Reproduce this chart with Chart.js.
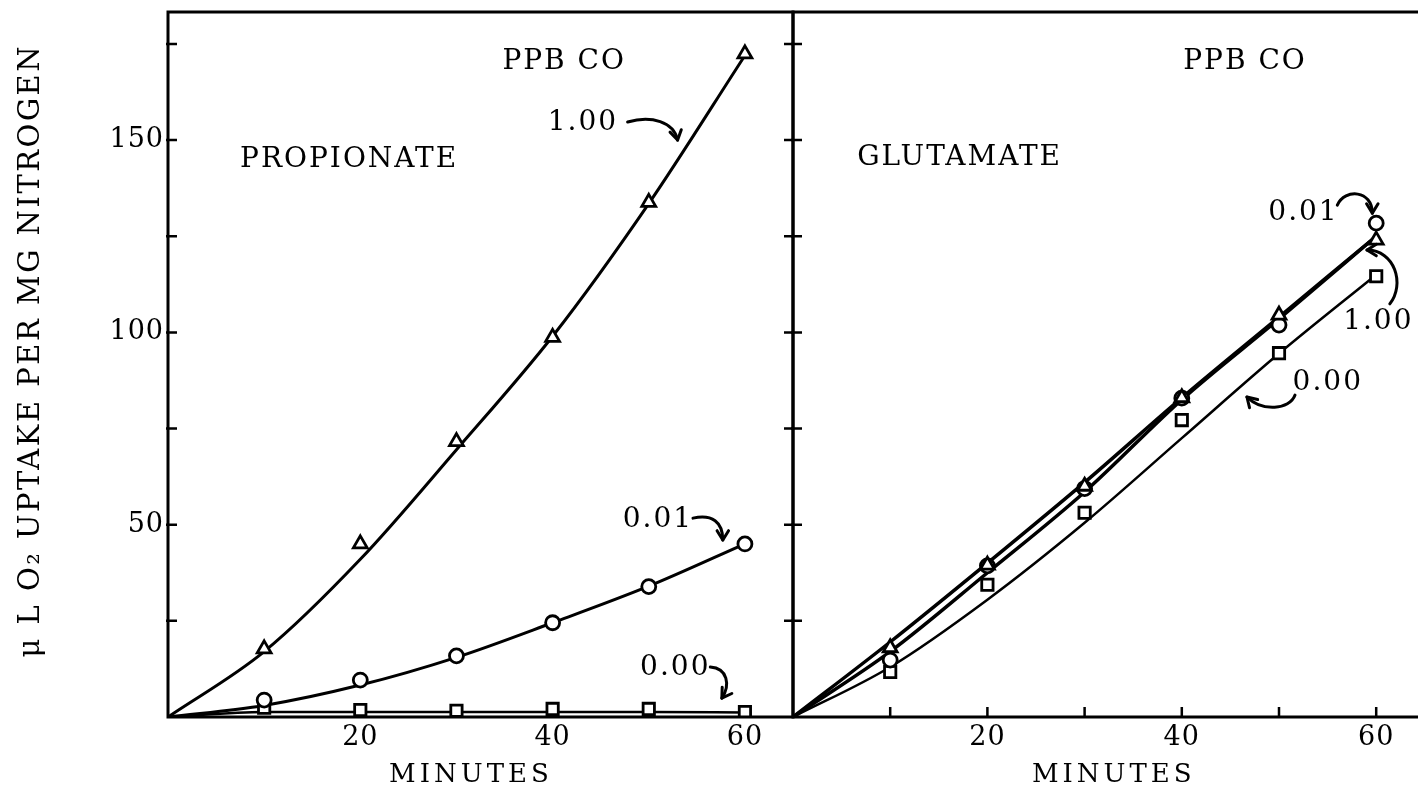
<!DOCTYPE html>
<html>
<head>
<meta charset="utf-8">
<script src="https://cdn.jsdelivr.net/npm/chart.js@4.4.1/dist/chart.umd.min.js"></script>
<style>
  html, body { margin: 0; padding: 0; background: #fff; }
  body { width: 1418px; height: 790px; position: relative; overflow: hidden; }
  .panel { position: absolute; top: 0; height: 790px; }
  #leftWrap { left: 0; width: 800px; }
  #rightWrap { left: 700px; width: 718px; }
</style>
</head>
<body>
<div class="panel" id="leftWrap"><canvas id="leftChart"></canvas></div>
<div class="panel" id="rightWrap"><canvas id="rightChart"></canvas></div>
<script>
// Sample times (minutes)
const minutes = [10, 20, 30, 40, 50, 60];
const fitMinutes = [0, 10, 20, 30, 40, 50, 60];
const xLabels = [20, 40, 60];
const yLabels = [50, 100, 150];

// Propionate, measured points (ppb CO: 1.00 / 0.01 / 0.00)
const propHigh = [17.7, 45, 71.6, 98.7, 133.8, 172.4];
const propMid = [4.4, 9.6, 15.9, 24.5, 33.9, 45];
const propZero = [2.4, 1.8, 1.6, 2.1, 2.1, 1.3];
// Propionate, drawn curves
const propHighFit = [0, 17, 41, 69.5, 99, 133.5, 172];
const propMidFit = [0, 3, 8.3, 15.5, 24.5, 34, 45];
const propZeroFit = [0, 1.3, 1.3, 1.3, 1.3, 1.3, 1.2];

// Glutamate, measured points
const gluHigh = [18, 39.5, 60, 83, 104.5, 124];
const gluMid = [14.8, 39.3, 59.4, 82.9, 101.9, 128.4];
const gluZero = [11.7, 34.4, 53.1, 77.2, 94.6, 114.6];
// Glutamate, drawn curves
const gluHighFit = [0, 19.5, 40, 61, 83, 104, 125];
const gluMidFit = [0, 17, 37.5, 58.5, 82.5, 103.5, 125];
const gluZeroFit = [0, 13, 30.5, 50.5, 72.5, 94.5, 115];

const FONT = '"DejaVu Serif", serif';
const pts = (xs, ys) => xs.map((x, i) => ({ x: x, y: ys[i] }));

function markers(ys, style, radius) {
    return {
        data: pts(minutes, ys),
        showLine: false,
        pointStyle: style,
        pointRadius: radius,
        pointBackgroundColor: '#fff',
        pointBorderColor: '#000',
        pointBorderWidth: 2.8,
        order: 0
    };
}

function curve(ys, width) {
    return {
        data: pts(fitMinutes, ys),
        borderColor: '#000',
        borderWidth: width,
        pointRadius: 0,
        cubicInterpolationMode: 'monotone',
        fill: false,
        order: 1
    };
}

function spacedText(ctx, text, x, y, size, spacing, align) {
    ctx.font = size + 'px ' + FONT;
    ctx.letterSpacing = spacing + 'px';
    ctx.textAlign = align || 'left';
    ctx.textBaseline = 'middle';
    // trailing letter spacing would push centred text left
    const dx = align === 'center' ? spacing / 2 : 0;
    ctx.fillText(text, x + dx, y);
}

// frame, inward ticks, titles, labels and arrows
const panelDecor = {
    id: 'panelDecor',
    beforeDraw(chart) {
        chart.ctx.letterSpacing = '1px';
    },
    afterDraw(chart, args, opts) {
        const ctx = chart.ctx;
        const a = chart.chartArea;
        const xs = chart.scales.x, ys = chart.scales.y;
        ctx.save();
        ctx.strokeStyle = '#000';
        ctx.fillStyle = '#000';
        ctx.lineWidth = 3;
        ctx.lineCap = 'square';
        ctx.beginPath();
        if (opts.sides.includes('left')) { ctx.moveTo(a.left, a.top); ctx.lineTo(a.left, a.bottom); }
        if (opts.sides.includes('top')) { ctx.moveTo(a.left, a.top); ctx.lineTo(a.right, a.top); }
        if (opts.sides.includes('right')) { ctx.moveTo(a.right, a.top); ctx.lineTo(a.right, a.bottom); }
        if (opts.sides.includes('bottom')) { ctx.moveTo(a.left, a.bottom); ctx.lineTo(a.right, a.bottom); }
        ctx.stroke();

        ctx.lineWidth = 2.5;
        ctx.lineCap = 'butt';
        ctx.beginPath();
        for (let v = 25; v <= 175; v += 25) {
            const py = ys.getPixelForValue(v);
            if (opts.yTicksLeft) { ctx.moveTo(a.left - 2, py); ctx.lineTo(a.left + 9, py); }
            if (opts.yTicksRight) { ctx.moveTo(a.right - 9, py); ctx.lineTo(a.right, py); }
        }
        (opts.xTicks || []).forEach(v => {
            const px = xs.getPixelForValue(v);
            ctx.moveTo(px, a.bottom); ctx.lineTo(px, a.bottom - 10);
        });
        ctx.stroke();

        // axis titles
        spacedText(ctx, 'MINUTES', xs.getPixelForValue(opts.xTitleAt), a.bottom + 58, 26, 4, 'center');
        if (opts.yTitle) {
            ctx.save();
            ctx.translate(31, 352);
            ctx.rotate(-Math.PI / 2);
            spacedText(ctx, opts.yTitle, 0, 0, 29, 2.5, 'center');
            ctx.restore();
        }

        (opts.notes || []).forEach(n => {
            spacedText(ctx, n.text, xs.getPixelForValue(n.x), ys.getPixelForValue(n.y), 28, 2, n.align);
        });

        ctx.lineWidth = 3;
        ctx.lineCap = 'round';
        (opts.arrows || []).forEach(ar => {
            const p = ar.map(q => [xs.getPixelForValue(q[0]), ys.getPixelForValue(q[1])]);
            ctx.beginPath();
            ctx.moveTo(p[0][0], p[0][1]);
            ctx.bezierCurveTo(p[1][0], p[1][1], p[2][0], p[2][1], p[3][0], p[3][1]);
            ctx.stroke();
            const ang = Math.atan2(p[3][1] - p[2][1], p[3][0] - p[2][0]);
            ctx.beginPath();
            [0.55, -0.55].forEach(d => {
                ctx.moveTo(p[3][0], p[3][1]);
                ctx.lineTo(p[3][0] - 11 * Math.cos(ang + d), p[3][1] - 11 * Math.sin(ang + d));
            });
            ctx.stroke();
        });
        ctx.restore();
        ctx.letterSpacing = '0px';
    }
};

function axes(xMax, yWidth, showY) {
    return {
        x: {
            type: 'linear', min: 0, max: xMax,
            grid: { display: false, drawTicks: false },
            border: { display: false },
            ticks: {
                stepSize: 10, includeBounds: false, autoSkip: false, maxRotation: 0, padding: 5,
                color: '#000', font: { family: FONT, size: 27 },
                callback: v => xLabels.includes(v) ? String(v) : ''
            },
            afterFit: s => { s.height = 73; s.paddingLeft = 0; s.paddingRight = 0; }
        },
        y: {
            min: 0, max: 183.3,
            grid: { display: false, drawTicks: false },
            border: { display: false },
            ticks: {
                display: showY, stepSize: 25, autoSkip: false, padding: 4,
                color: '#000', font: { family: FONT, size: 27 },
                callback: v => yLabels.includes(v) ? String(v) : ''
            },
            afterFit: s => { s.width = yWidth; s.paddingTop = 0; s.paddingBottom = 0; }
        }
    };
}

// Propionate panel
new Chart(document.getElementById('leftChart').getContext('2d'), {
    type: 'line',
    data: {
        datasets: [
            markers(propHigh, 'triangle', 8),
            markers(propMid, 'circle', 7),
            markers(propZero, 'rect', 8),
            curve(propHighFit, 3),
            curve(propMidFit, 3),
            curve(propZeroFit, 2.5)
        ]
    },
    options: {
        responsive: true,
        maintainAspectRatio: false,
        animation: false,
        layout: { autoPadding: false, padding: { top: 12, right: 7, left: 0, bottom: 0 } },
        scales: axes(65, 168, true),
        plugins: {
            legend: { display: false },
            tooltip: { enabled: false },
            panelDecor: {
                sides: ['left', 'top', 'right', 'bottom'],
                yTicksLeft: true,
                yTicksRight: true,
                xTitleAt: 31.3,
                yTitle: 'μ L O₂ UPTAKE PER MG NITROGEN',
                notes: [
                    { text: 'PPB CO', x: 41.1, y: 170.3, align: 'center' },
                    { text: 'PROPIONATE', x: 7.5, y: 144.8 },
                    { text: '1.00', x: 39.5, y: 154.4 },
                    { text: '0.01', x: 47.3, y: 51.2 },
                    { text: '0.00', x: 49.1, y: 12.7 }
                ],
                arrows: [
                    [[47.8, 154.7], [50.3, 156.5], [52.6, 154.7], [53.0, 150.0]],
                    [[54.6, 51.7], [56.6, 52.8], [57.7, 50.7], [57.7, 46.0]],
                    [[56.4, 13.0], [58.2, 12.7], [58.5, 8.3], [57.6, 4.9]]
                ]
            }
        }
    },
    plugins: [panelDecor]
});

// Glutamate panel
new Chart(document.getElementById('rightChart').getContext('2d'), {
    type: 'line',
    data: {
        datasets: [
            markers(gluHigh, 'triangle', 8),
            markers(gluMid, 'circle', 7),
            markers(gluZero, 'rect', 8),
            curve(gluHighFit, 3.5),
            curve(gluMidFit, 3.5),
            curve(gluZeroFit, 2.5)
        ]
    },
    options: {
        responsive: true,
        maintainAspectRatio: false,
        animation: false,
        layout: { autoPadding: false, padding: { top: 12, right: 0, left: 0, bottom: 0 } },
        scales: axes(64.3, 93, false),
        plugins: {
            legend: { display: false },
            tooltip: { enabled: false },
            panelDecor: {
                sides: ['left', 'top', 'bottom'],
                yTicksLeft: true,
                xTicks: [10, 20, 30, 40, 50, 60],
                xTitleAt: 32.8,
                notes: [
                    { text: 'PPB CO', x: 46.4, y: 170.3, align: 'center' },
                    { text: 'GLUTAMATE', x: 6.6, y: 145.3 },
                    { text: '0.01', x: 48.9, y: 131 },
                    { text: '1.00', x: 56.6, y: 102.7 },
                    { text: '0.00', x: 51.4, y: 86.8 }
                ],
                arrows: [
                    [[56.0, 133.1], [56.8, 137.5], [59.6, 137.0], [59.6, 131.0]],
                    [[61.4, 107.4], [63.0, 112.6], [61.9, 121.4], [59.05, 121.4]],
                    [[51.65, 83.7], [51.1, 79.8], [48.25, 79.3], [46.7, 83.2]]
                ]
            }
        }
    },
    plugins: [panelDecor]
});
</script>
</body>
</html>
